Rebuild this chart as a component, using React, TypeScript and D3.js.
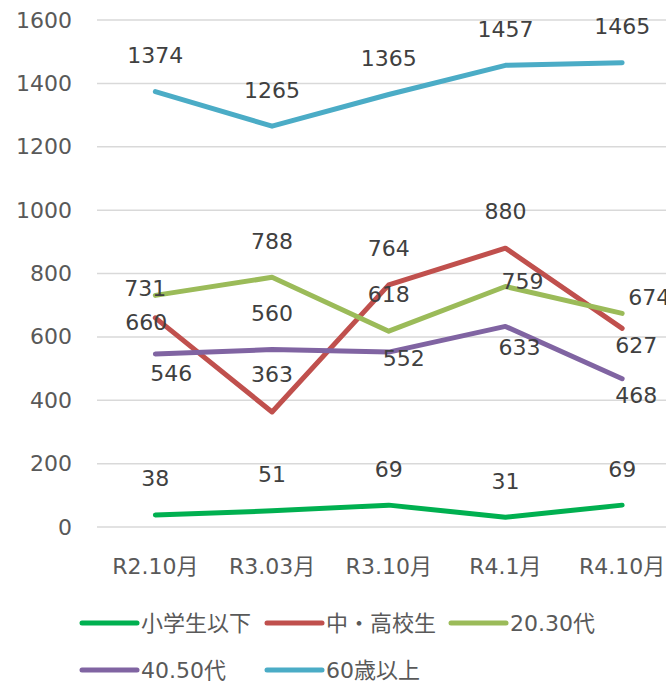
import React from "react";
import * as d3 from "d3";

const categories = ["R2.10月", "R3.03月", "R3.10月", "R4.1月", "R4.10月"];
const seriesNames = ["小学生以下", "中・高校生", "20.30代", "40.50代", "60歳以上"];
const elementary = [38, 51, 69, 31, 69];
const juniorHigh = [660, 363, 764, 880, 627];
const age2030 = [731, 788, 618, 759, 674];
const age4050 = [546, 560, 552, 633, 468];
const age60plus = [1374, 1265, 1365, 1457, 1465];
const yTicks = [0, 200, 400, 600, 800, 1000, 1200, 1400, 1600];

const colors = ["#00b050", "#c0504d", "#9bbb59", "#8064a2", "#4bacc6"];
// label offsets (dx, dy) from each point, in pixels
const above: [number, number][] = [[0, -36], [0, -36], [0, -36], [0, -36], [0, -36]];
const labelOffsets: [number, number][][] = [
  above,
  [[-9, 5], [0, -37], [0, -36], [0, -37], [14, 17]],
  [[-10, -7], [0, -36], [0, -37], [17, -5], [27, -16]],
  [[16, 20], [0, -36], [15, 6], [14, 21], [14, 17]],
  above,
];

const W = 666;
const H = 681;
const FONT = "'DejaVu Sans', Verdana, 'Noto Sans CJK JP', sans-serif";

export default function App() {
  const series = [elementary, juniorHigh, age2030, age4050, age60plus];
  const x = d3.scalePoint<string>().domain(categories).range([97, 680.5]).padding(0.5);
  const y = d3.scaleLinear().domain([0, 1600]).range([527, 20]);
  const line = d3
    .line<number>()
    .x((_, i) => x(categories[i]) as number)
    .y((d) => y(d));

  const legendItems = [
    { i: 0, lx: 82, ly: 623 },
    { i: 1, lx: 267, ly: 623 },
    { i: 2, lx: 451, ly: 623 },
    { i: 3, lx: 82, ly: 670 },
    { i: 4, lx: 267, ly: 670 },
  ];

  return (
    <svg
      width={W}
      height={H}
      style={{ position: "fixed", left: 0, top: 0, background: "#fff" }}
      fontFamily={FONT}
    >
      <rect width={W} height={H} fill="#fff" />
      {yTicks.map((t) => (
        <g key={t}>
          <line x1={97} x2={W} y1={y(t)} y2={y(t)} stroke="#d9d9d9" strokeWidth={1.5} />
          <text
            x={72}
            y={y(t)}
            textAnchor="end"
            dominantBaseline="central"
            fontSize={22}
            fill="#595959"
          >
            {t}
          </text>
        </g>
      ))}
      {categories.map((c) => (
        <text
          key={c}
          x={x(c) as number}
          y={566}
          textAnchor="middle"
          dominantBaseline="central"
          fontSize={22}
          fill="#595959"
        >
          {c}
        </text>
      ))}
      {series.map((s, si) => (
        <path
          key={si}
          d={line(s) || ""}
          fill="none"
          stroke={colors[si]}
          strokeWidth={5}
          strokeLinecap="round"
          strokeLinejoin="round"
        />
      ))}
      {series.map((s, si) =>
        s.map((v, i) => (
          <text
            key={si + "-" + i}
            x={(x(categories[i]) as number) + labelOffsets[si][i][0]}
            y={y(v) + labelOffsets[si][i][1]}
            textAnchor="middle"
            dominantBaseline="central"
            fontSize={22}
            fill="#404040"
          >
            {v}
          </text>
        ))
      )}
      {legendItems.map(({ i, lx, ly }) => (
        <g key={i}>
          <line
            x1={lx}
            x2={lx + 55}
            y1={ly}
            y2={ly}
            stroke={colors[i]}
            strokeWidth={5}
            strokeLinecap="round"
          />
          <text x={lx + 59} y={ly} dominantBaseline="central" fontSize={22} fill="#595959">
            {seriesNames[i]}
          </text>
        </g>
      ))}
    </svg>
  );
}
